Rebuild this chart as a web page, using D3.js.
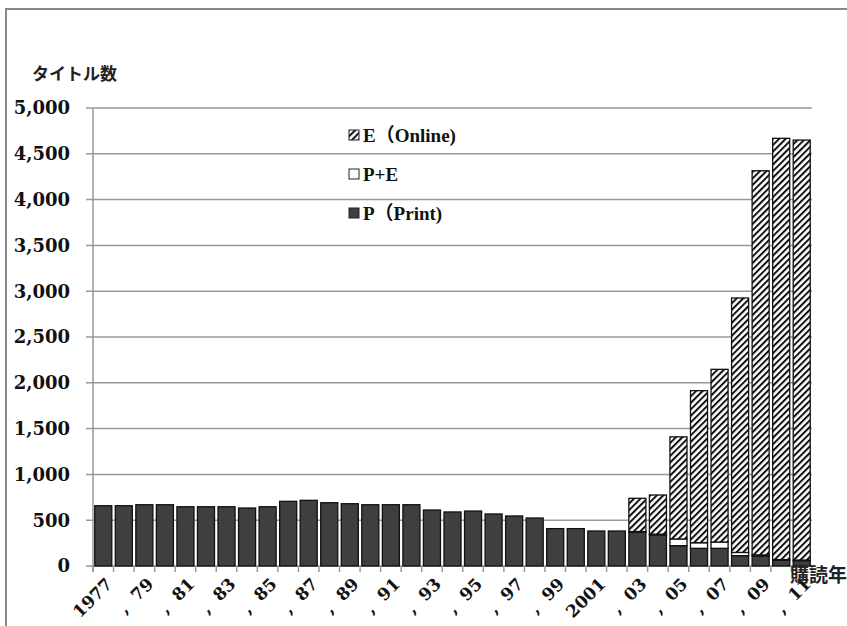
<!DOCTYPE html>
<html>
<head>
<meta charset="utf-8">
<script src="https://cdn.jsdelivr.net/npm/d3@7"></script>
<style>
body { margin: 0; background: #fff; }
svg { display: block; }
</style>
</head>
<body>
<script>
// purchase year 1977 - 2011
var years = d3.range(1977, 2012);
// P (Print)
var printVals = [658,658,669,669,647,647,647,633,647,706,717,691,680,669,669,669,611,590,600,568,546,524,408,408,382,382,371,340,222,193,193,113,109,62,59];
// P+E
var bothVals = [0,0,0,0,0,0,0,0,0,0,0,0,0,0,0,0,0,0,0,0,0,0,0,0,0,0,5,8,73,61,69,35,12,8,6];
// E (Online)
var onlineVals = [0,0,0,0,0,0,0,0,0,0,0,0,0,0,0,0,0,0,0,0,0,0,0,0,0,0,363,427,1115,1660,1885,2778,4194,4599,4585];
var yTicks = [0,500,1000,1500,2000,2500,3000,3500,4000,4500,5000];
var legendLabels = ["E（Online)", "P+E", "P（Print)"];

var W = 847, H = 626;
var margin = {top: 108, right: 35, bottom: 60, left: 93};
var width = 812 - margin.left, height = 566 - margin.top;

var svg = d3.select("body").append("svg").attr("width", W).attr("height", H);

// hatch for online
var defs = svg.append("defs");
defs.append("pattern").attr("id","hatch").attr("patternUnits","userSpaceOnUse")
  .attr("width",4.6).attr("height",4.6).attr("patternTransform","rotate(45)")
  .call(function(p){
    p.append("rect").attr("width",4.6).attr("height",4.6).attr("fill","#fff");
    p.append("line").attr("x1",1).attr("x2",1).attr("y1",0).attr("y2",4.6).attr("stroke","#111").attr("stroke-width",2);
  });

// outer frame
svg.append("rect").attr("x",6).attr("y",9).attr("width",900).attr("height",700)
  .attr("fill","none").attr("stroke","#888").attr("stroke-width",2);

var g = svg.append("g").attr("transform","translate("+margin.left+","+margin.top+")");

var x = d3.scaleBand().domain(years).range([0,width]).paddingInner(0.17).paddingOuter(0.085);
var y = d3.scaleLinear().domain([0,5000]).range([height,0]);

// gridlines
g.append("g").selectAll("line").data(yTicks).enter().append("line")
  .attr("x1",-7).attr("x2",width).attr("y1",function(d){return y(d);}).attr("y2",function(d){return y(d);})
  .attr("stroke","#999").attr("stroke-width",1.5);

// y axis line
g.append("line").attr("x1",0).attr("x2",0).attr("y1",0).attr("y2",height+6).attr("stroke","#999").attr("stroke-width",1.5);

// y labels
g.append("g").selectAll("text").data(yTicks).enter().append("text")
  .attr("x",-23).attr("y",function(d){return y(d);}).attr("dy","0.36em")
  .attr("text-anchor","end").attr("font-family","DejaVu Serif").attr("font-weight","bold").attr("font-size",18).attr("fill","#111")
  .text(function(d){return d3.format(",")(d);});

// x ticks at category boundaries
var step = x.step();
g.append("g").selectAll("line").data(d3.range(years.length+1)).enter().append("line")
  .attr("x1",function(i){return i*step;}).attr("x2",function(i){return i*step;})
  .attr("y1",height).attr("y2",height+6).attr("stroke","#999").attr("stroke-width",1.5);

// stacked bars
var rows = years.map(function(yr,i){ return {year: yr, p: printVals[i], pe: bothVals[i], e: onlineVals[i]}; });
var stack = d3.stack().keys(["p","pe","e"]);
var layers = stack(rows);
var fills = {p: "#3f3f3f", pe: "#fff", e: "url(#hatch)"};

g.selectAll("g.layer").data(layers).enter().append("g").attr("class","layer")
  .attr("fill",function(d){return fills[d.key];})
  .selectAll("rect").data(function(d){return d.filter(function(v){return v[1]-v[0]>0;});}).enter().append("rect")
  .attr("x",function(d){return x(d.data.year);})
  .attr("width",x.bandwidth())
  .attr("y",function(d){return y(d[1]);})
  .attr("height",function(d){return y(d[0])-y(d[1]);})
  .attr("stroke","#111").attr("stroke-width",1.3);

// x labels, every other year
g.append("g").selectAll("text").data(years.filter(function(d,i){return i%2===0;})).enter().append("text")
  .attr("transform",function(d){return "translate("+(x(d)+x.bandwidth()/2+6)+","+(height+15)+") rotate(-45)";})
  .attr("text-anchor","end").attr("dy","0.35em")
  .attr("font-family","DejaVu Serif").attr("font-weight","bold").attr("font-size",17).attr("fill","#111")
  .text(function(d){ return (d===1977 || d===2001) ? String(d) : ",  " + String(d).slice(2); })
  .attr("xml:space","preserve").style("white-space","pre");

// axis titles
svg.append("text").attr("x",32).attr("y",80).attr("font-family","Noto Sans CJK JP").attr("font-weight","bold")
  .attr("font-size",17).attr("fill","#222").text("タイトル数");
svg.append("text").attr("x",790).attr("y",582).attr("font-family","Noto Sans CJK JP").attr("font-weight","bold")
  .attr("font-size",19).attr("fill","#222").text("購読年");

// legend
var legendFill = ["url(#hatch)", "#fff", "#3f3f3f"];
var lg = svg.append("g").attr("transform","translate(349,135)");
var items = lg.selectAll("g").data(legendLabels).enter().append("g")
  .attr("transform",function(d,i){return "translate(0,"+(i*39)+")";});
items.append("rect").attr("x",0).attr("y",-5).attr("width",10).attr("height",10)
  .attr("fill",function(d,i){return legendFill[i];}).attr("stroke","#222").attr("stroke-width",1);
items.append("text").attr("x",14).attr("dy","0.35em")
  .attr("font-family","Liberation Serif, Noto Sans CJK JP").attr("font-weight","bold").attr("font-size",19).attr("fill","#111")
  .text(function(d){return d;});
</script>
</body>
</html>
